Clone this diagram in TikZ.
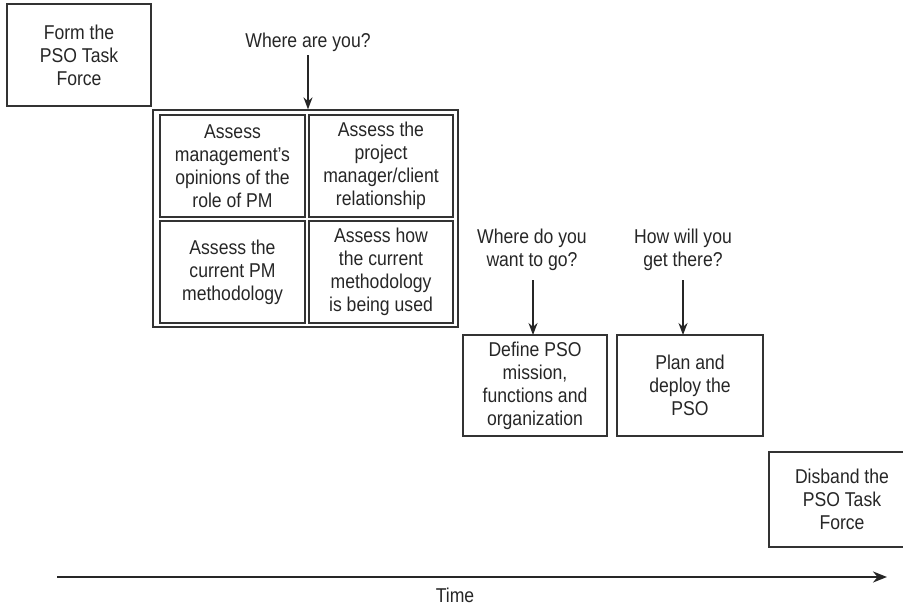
\documentclass[tikz,border=0pt]{standalone}
\usepackage{fontspec}
\setmainfont[FakeStretch=0.88]{Liberation Sans}
\usetikzlibrary{arrows.meta}
\begin{document}
\begin{tikzpicture}[x=1pt,y=-1pt,
  txt/.style={font=\fontsize{20}{23}\selectfont, align=center, text=black!85, inner sep=0pt},
  boxnode/.style={txt, draw=black!80, line width=1.3pt, minimum width=144pt, minimum height=101pt},
  cell/.style={txt, draw=black!80, line width=1.3pt, minimum width=145pt, minimum height=102pt},
  conn/.style={draw=black!85, line width=1.5pt, -{Stealth[length=12pt,width=9pt]}},
  timeax/.style={draw=black!85, line width=2.5pt, -{Stealth[length=14pt,width=11pt]}}]
\useasboundingbox (0,0) rectangle (903,606);
\node[boxnode, minimum height=102pt] (form) at (79,55) {Form the\\PSO Task\\Force};
\node[txt, anchor=base] (wya) at (308,47) {Where are you?};
\node[draw=black!80, line width=1.3pt, minimum width=305pt, minimum height=217pt, inner sep=0pt] (outer) at (305.5,218.5) {};
\node[cell] (c11) at (232.5,166) {Assess\\management's\\opinions of the\\role of PM};
\node[cell, minimum width=144pt] (c12) at (381,166) {Assess the\\project\\manager/client\\relationship};
\node[cell] (c21) at (232.5,272) {Assess the\\current PM\\methodology};
\node[cell, minimum width=144pt] (c22) at (381,272) {Assess how\\the current\\methodology\\is being used};
\node[txt] (wdy) at (532,250) {Where do you\\want to go?};
\node[txt] (hwy) at (683,250) {How will you\\get there?};
\node[boxnode] (def) at (535,385.5) {Define PSO\\mission,\\functions and\\organization};
\node[boxnode, minimum width=146pt] (plan) at (690,385.5) {Plan and\\deploy the\\PSO};
\node[boxnode, minimum width=146pt, minimum height=95pt] (disb) at (842,499.5) {Disband the\\PSO Task\\Force};
\coordinate (t0) at (57,577);
\coordinate (t1) at (887,577);
\node[txt, anchor=base] (time) at (455,602) {Time};
\draw[conn] (wya.south |- 0,55) -- (wya.south |- outer.north);
\draw[conn] (533,280) -- (533,335);
\draw[conn] (683,280) -- (683,335);
\draw[timeax] (t0) -- (t1);
\end{tikzpicture}
\end{document}
